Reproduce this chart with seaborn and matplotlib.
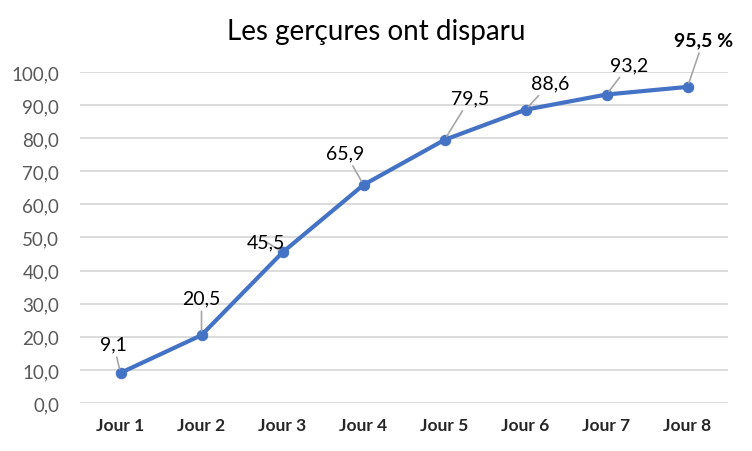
import numpy as np
import pandas as pd
import matplotlib
matplotlib.use("Agg")
import matplotlib.pyplot as plt
from matplotlib.ticker import FuncFormatter
import seaborn as sns

# -------------------- DATA --------------------
jours = ["Jour 1", "Jour 2", "Jour 3", "Jour 4", "Jour 5", "Jour 6", "Jour 7", "Jour 8"]
valeurs = [9.1, 20.5, 45.5, 65.9, 79.5, 88.6, 93.2, 95.5]
etiquettes = ["9,1", "20,5", "45,5", "65,9", "79,5", "88,6", "93,2", "95,5 %"]
titre = "Les gerçures ont disparu"

df = pd.DataFrame({"jour": jours, "valeur": valeurs})

# label offsets (pixels) relative to each point
offsets = [(-7, 29), (0, 37), (-17, 11), (-18, 32), (26, 42), (25, 27), (23, 30), (16, 47)]

# -------------------- STYLE --------------------
sns.set_style("white")
plt.rcParams["font.family"] = ["Lato", "DejaVu Sans"]

fig = plt.figure(figsize=(7.52, 4.52), dpi=100)
ax = fig.add_axes([0.1064, 0.1062, 0.8617, 0.7323])

sns.lineplot(data=df, x="jour", y="valeur", ax=ax, color="#4472C4", linewidth=3.0,
             marker="o", markersize=7.5, markeredgecolor="#4472C4", sort=False)

ax.set_ylim(0, 100)
ax.set_xlim(-0.5, 7.5)
ax.set_yticks(np.arange(0, 101, 10))
ax.yaxis.set_major_formatter(FuncFormatter(lambda v, p: f"{v:.1f}".replace(".", ",")))
ax.grid(axis="y", color="#D9D9D9", linewidth=1.3)
ax.set_axisbelow(True)
for s in ax.spines.values():
    s.set_visible(False)
ax.tick_params(axis="both", length=0)
ax.tick_params(axis="y", labelsize=13.5, labelcolor="#595959", pad=15)
ax.tick_params(axis="x", labelsize=12.5, pad=10)
for t in ax.get_xticklabels():
    t.set_fontweight("bold")
ax.set_xlabel("")
ax.set_ylabel("")

# -------------------- LABELS --------------------
for i, (v, lab) in enumerate(zip(valeurs, etiquettes)):
    dx, dy = offsets[i]
    last = i == len(valeurs) - 1
    ax.annotate(lab, xy=(i, v), xytext=(dx, dy), textcoords="offset pixels",
                ha="center", va="center", fontsize=14,
                fontweight="bold" if last else "normal", color="black",
                annotation_clip=False,
                arrowprops=dict(arrowstyle="-", color="#A6A6A6", lw=1.2,
                                shrinkA=1, shrinkB=3))

fig.text(0.5, 0.93, titre, ha="center", va="center", fontsize=20, color="black")

fig.savefig("out.png", dpi=100)
